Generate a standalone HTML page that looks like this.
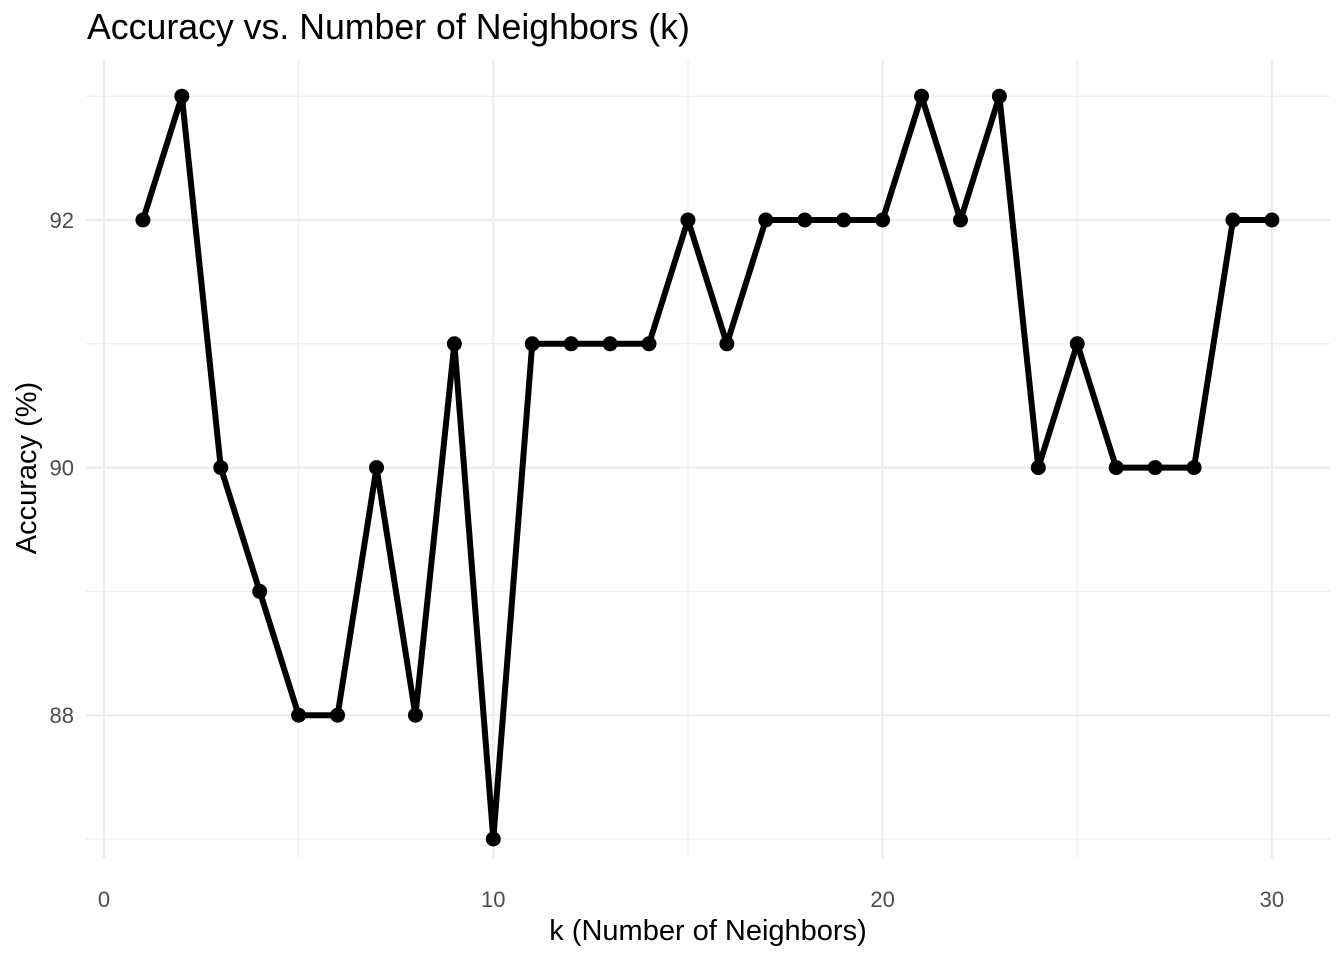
<!DOCTYPE html>
<html><head><meta charset="utf-8"><style>
body{margin:0;background:#fff;}
svg{display:block;font-family:"Liberation Sans",sans-serif;}
</style></head><body>
<svg id="chart" width="1344" height="960">
<text x="87" y="39" font-size="35.7" fill="#000">Accuracy vs. Number of Neighbors (k)</text>
<g id="grid"></g>
<g id="ticks"></g>
<g id="series"></g>
<text x="708" y="940" font-size="29" text-anchor="middle" fill="#000">k (Number of Neighbors)</text>
<text transform="translate(36,468) rotate(-90)" font-size="29" text-anchor="middle" fill="#000">Accuracy (%)</text>
</svg>
<script>
const kValues = [1,2,3,4,5,6,7,8,9,10,11,12,13,14,15,16,17,18,19,20,21,22,23,24,25,26,27,28,29,30];
const accuracy = [92,93,90,89,88,88,90,88,91,87,91,91,91,91,92,91,92,92,92,92,93,92,93,90,91,90,90,90,92,92];
const xTicks = [0,10,20,30];
const xMinor = [5,15,25];
const yTicks = [88,90,92];
const yMinor = [87,89,91,93];

const NS = "http://www.w3.org/2000/svg";
const xs = v => 104 + v * 38.93;
const ys = v => 220 + (92 - v) * 123.8;
const L = 86, R = 1330, T = 60, B = 858;
function mk(tag, attrs, parent){const e=document.createElementNS(NS,tag);for(const k in attrs)e.setAttribute(k,attrs[k]);document.getElementById(parent).appendChild(e);return e;}

xMinor.forEach(v=>{const e=mk('line',{x1:xs(v),x2:xs(v),y1:T,y2:B,stroke:'#ebebeb','stroke-width':1},'grid');

});
yMinor.forEach(v=>{const e=mk('line',{x1:L,x2:R,y1:ys(v),y2:ys(v),stroke:'#ebebeb','stroke-width':1},'grid');

});
xTicks.forEach(v=>{const e=mk('line',{x1:xs(v),x2:xs(v),y1:T,y2:B,stroke:'#ebebeb','stroke-width':2},'grid');


const t=mk('text',{x:xs(v),y:907,'font-size':22,'text-anchor':'middle',fill:'#4d4d4d'},'ticks');t.textContent=v;

});
yTicks.forEach(v=>{const e=mk('line',{x1:L,x2:R,y1:ys(v),y2:ys(v),stroke:'#ebebeb','stroke-width':2},'grid');


const t=mk('text',{x:74,y:ys(v)+8,'font-size':22,'text-anchor':'end',fill:'#4d4d4d'},'ticks');t.textContent=v;

});

const pts = kValues.map((k,i)=>xs(k)+','+ys(accuracy[i])).join(' ');
const line = mk('polyline',{points:pts,fill:'none',stroke:'#000','stroke-width':6,'stroke-linejoin':'round'},'series');


kValues.forEach((k,i)=>{const c=mk('circle',{cx:xs(k),cy:ys(accuracy[i]),r:7.5,fill:'#000'},'series');

});
</script>
</body></html>
